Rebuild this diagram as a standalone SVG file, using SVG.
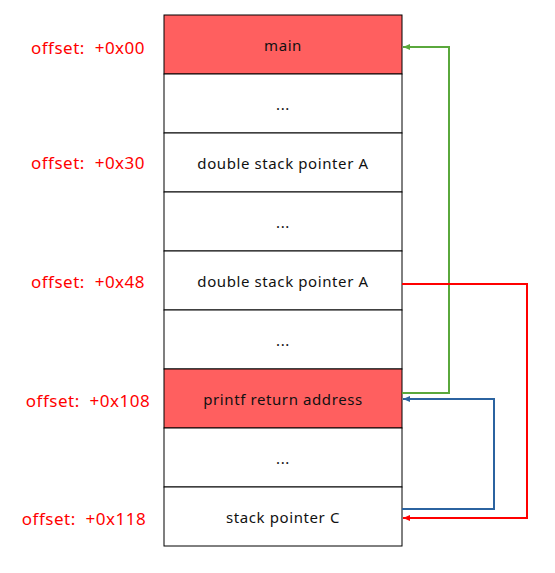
<svg xmlns="http://www.w3.org/2000/svg" width="555" height="573" viewBox="0 0 555 573">
<defs>
<style>
.cell{fill:#ffffff;stroke:#000000;stroke-width:1}
.hot{fill:#ff5f5f}
.t{font-family:"Noto Sans","Open Sans",sans-serif;font-size:15px;letter-spacing:0.6px;fill:#111111;text-anchor:middle;dominant-baseline:central}
.off{font-family:"Noto Sans","Open Sans",sans-serif;font-size:17px;letter-spacing:0.5px;fill:#ff0000;text-anchor:middle;dominant-baseline:central;white-space:pre}
.c{fill:none;stroke-width:2}
</style>
<marker id="ag" markerWidth="8" markerHeight="8" refX="7" refY="4" orient="auto" markerUnits="userSpaceOnUse"><path d="M0,1 L7,4 L0,7 Z" fill="#5aa83c"/></marker>
<marker id="ab" markerWidth="8" markerHeight="8" refX="7" refY="4" orient="auto" markerUnits="userSpaceOnUse"><path d="M0,1 L7,4 L0,7 Z" fill="#2b63a0"/></marker>
<marker id="ar" markerWidth="8" markerHeight="8" refX="7" refY="4" orient="auto" markerUnits="userSpaceOnUse"><path d="M0,1 L7,4 L0,7 Z" fill="#ff0000"/></marker>
</defs>
<g id="cell-main"><rect class="cell hot" x="164" y="15" width="238" height="59"/><text class="t" x="283" y="44.5">main</text></g>
<g id="cell-1"><rect class="cell" x="164" y="74" width="238" height="59"/><text class="t" x="283" y="103.5">...</text></g>
<g id="cell-0x30"><rect class="cell" x="164" y="133" width="238" height="59"/><text class="t" x="283" y="162.5">double stack pointer A</text></g>
<g id="cell-3"><rect class="cell" x="164" y="192" width="238" height="59"/><text class="t" x="283" y="221.5">...</text></g>
<g id="cell-0x48"><rect class="cell" x="164" y="251" width="238" height="59"/><text class="t" x="283" y="280.5">double stack pointer A</text></g>
<g id="cell-5"><rect class="cell" x="164" y="310" width="238" height="59"/><text class="t" x="283" y="339.5">...</text></g>
<g id="cell-0x108"><rect class="cell hot" x="164" y="369" width="238" height="59"/><text class="t" x="283" y="398.5">printf return address</text></g>
<g id="cell-7"><rect class="cell" x="164" y="428" width="238" height="59"/><text class="t" x="283" y="457.5">...</text></g>
<g id="cell-0x118"><rect class="cell" x="164" y="487" width="238" height="59"/><text class="t" x="283" y="516.5">stack pointer C</text></g>
<g id="labels">
<text class="off" x="88" y="47" xml:space="preserve">offset:  +0x00</text>
<text class="off" x="88" y="162" xml:space="preserve">offset:  +0x30</text>
<text class="off" x="88" y="281" xml:space="preserve">offset:  +0x48</text>
<text class="off" x="88" y="400" xml:space="preserve">offset:  +0x108</text>
<text class="off" x="84" y="518" xml:space="preserve">offset:  +0x118</text>
</g>
<g id="connectors">
<path class="c" stroke="#5aa83c" d="M402,393 H449 V47 H403" marker-end="url(#ag)"/>
<path class="c" stroke="#ff0000" d="M402,284 H527 V518 H403" marker-end="url(#ar)"/>
<path class="c" stroke="#2b63a0" d="M402,509 H494 V399 H403" marker-end="url(#ab)"/>
</g>
</svg>
